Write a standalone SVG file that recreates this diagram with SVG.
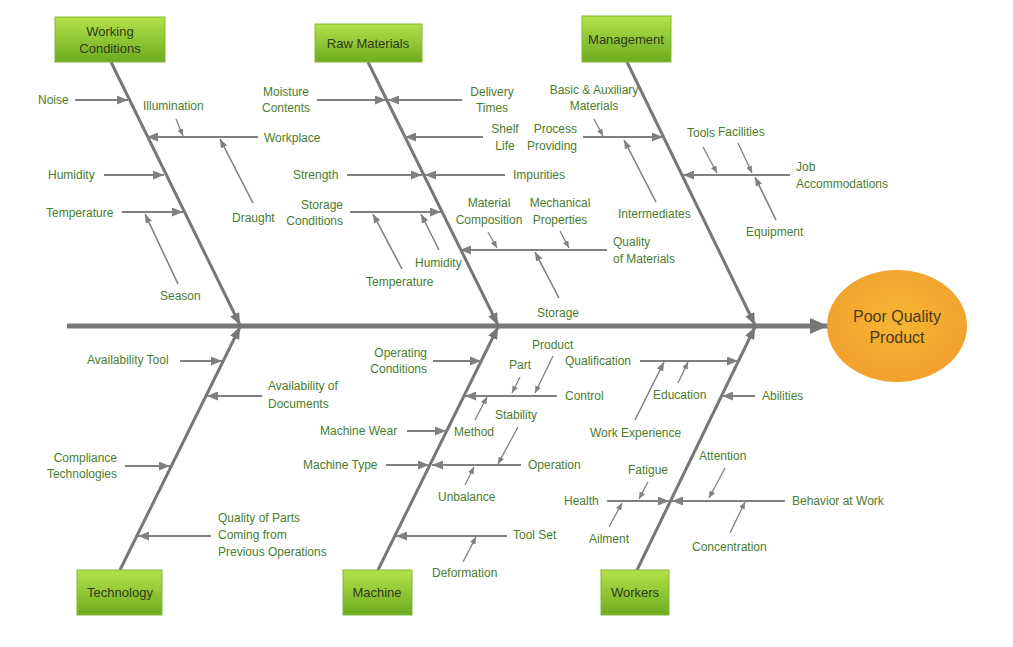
<svg xmlns="http://www.w3.org/2000/svg" width="1013" height="647" viewBox="0 0 1013 647">
<style>
.t{font-family:"Liberation Sans",Arial,sans-serif;font-size:12px;fill:#4a7c2e}
.m{text-anchor:middle}
.e{text-anchor:end}
.bt{font-family:"Liberation Sans",Arial,sans-serif;font-size:13px;fill:#2f3a1c;text-anchor:middle}
.box{fill:url(#gg);stroke:#7fb83a;stroke-width:1}
.bone{stroke:#777;stroke-width:3;fill:none;marker-end:url(#ab)}
.a{stroke:#808080;stroke-width:2;fill:none;marker-end:url(#ah)}
.d{stroke:#808080;stroke-width:1.6;fill:none;marker-end:url(#ad)}
.s{stroke:#808080;stroke-width:1.3;fill:none;marker-end:url(#as)}
</style>
<defs>
<linearGradient id="gg" x1="0" y1="0" x2="0" y2="1">
<stop offset="0" stop-color="#b4e24a"/>
<stop offset="1" stop-color="#6eab20"/>
</linearGradient>
<radialGradient id="og" cx="0.5" cy="0.45" r="0.6">
<stop offset="0" stop-color="#f7b534"/>
<stop offset="1" stop-color="#f0a02c"/>
</radialGradient>
<marker id="ab" markerUnits="userSpaceOnUse" markerWidth="12" markerHeight="10" refX="12" refY="5" orient="auto"><path d="M0,0 L12,5 L0,10 z" fill="#777"/></marker>
<marker id="ah" markerUnits="userSpaceOnUse" markerWidth="11" markerHeight="9" refX="11" refY="4.5" orient="auto"><path d="M0,0 L11,4.5 L0,9 z" fill="#808080"/></marker>
<marker id="ad" markerUnits="userSpaceOnUse" markerWidth="9" markerHeight="7" refX="9" refY="3.5" orient="auto"><path d="M0,0 L9,3.5 L0,7 z" fill="#808080"/></marker>
<marker id="as" markerUnits="userSpaceOnUse" markerWidth="7" markerHeight="6" refX="7" refY="3" orient="auto"><path d="M0,0 L7,3 L0,6 z" fill="#808080"/></marker>
<marker id="asp" markerUnits="userSpaceOnUse" markerWidth="18" markerHeight="16" refX="18" refY="8" orient="auto"><path d="M0,0 L18,8 L0,16 z" fill="#777"/></marker>
</defs>
<rect width="1013" height="647" fill="#fff"/>

<g id="connectors">
<line x1="67" y1="326" x2="828" y2="326" stroke="#777" stroke-width="5" marker-end="url(#asp)"/>
<line class="bone" x1="111" y1="62" x2="240" y2="325"/>
<line class="bone" x1="368" y1="62" x2="498" y2="325"/>
<line class="bone" x1="627" y1="62" x2="755" y2="325"/>
<line class="bone" x1="120" y1="570" x2="240" y2="327"/>
<line class="bone" x1="378" y1="570" x2="498" y2="327"/>
<line class="bone" x1="637" y1="570" x2="755" y2="327"/>

<line class="a" x1="75" y1="100" x2="128" y2="100"/>
<line class="a" x1="258" y1="137" x2="147" y2="137"/>
<line class="a" x1="104" y1="175" x2="164" y2="175"/>
<line class="a" x1="122" y1="212" x2="183" y2="212"/>
<line class="s" x1="176" y1="119" x2="183" y2="136"/>
<line class="d" x1="253" y1="203" x2="220" y2="139"/>
<line class="d" x1="178" y1="284" x2="145" y2="214"/>

<line class="a" x1="317" y1="100" x2="386" y2="100"/>
<line class="a" x1="462" y1="100" x2="388" y2="100"/>
<line class="a" x1="483" y1="137" x2="405" y2="137"/>
<line class="a" x1="347" y1="175" x2="422" y2="175"/>
<line class="a" x1="505" y1="175" x2="425" y2="175"/>
<line class="a" x1="350" y1="212" x2="441" y2="212"/>
<line class="d" x1="402" y1="269" x2="373" y2="214"/>
<line class="d" x1="439" y1="250" x2="421" y2="214"/>
<line class="a" x1="607" y1="250" x2="460" y2="250"/>
<line class="s" x1="488" y1="232" x2="497" y2="248"/>
<line class="s" x1="560" y1="231" x2="569" y2="248"/>
<line class="d" x1="559" y1="298" x2="535" y2="252"/>

<line class="s" x1="594" y1="119" x2="603" y2="136"/>
<line class="a" x1="583" y1="137" x2="663" y2="137"/>
<line class="d" x1="656" y1="202" x2="624" y2="140"/>
<line class="a" x1="790" y1="175" x2="683" y2="175"/>
<line class="s" x1="703" y1="147" x2="717" y2="173"/>
<line class="s" x1="738" y1="143" x2="752" y2="173"/>
<line class="d" x1="776" y1="220" x2="755" y2="177"/>

<line class="a" x1="180" y1="361" x2="222" y2="361"/>
<line class="a" x1="262" y1="396" x2="207" y2="396"/>
<line class="a" x1="125" y1="466" x2="170" y2="466"/>
<line class="a" x1="211" y1="536" x2="138" y2="536"/>

<line class="a" x1="433" y1="361" x2="481" y2="361"/>
<line class="a" x1="557" y1="396" x2="465" y2="396"/>
<line class="s" x1="520" y1="377" x2="512" y2="393"/>
<line class="s" x1="553" y1="356" x2="535" y2="393"/>
<line class="s" x1="475" y1="420" x2="487" y2="397"/>
<line class="a" x1="407" y1="431" x2="446" y2="431"/>
<line class="a" x1="386" y1="465" x2="429" y2="465"/>
<line class="a" x1="521" y1="465" x2="432" y2="465"/>
<line class="s" x1="518" y1="427" x2="498" y2="464"/>
<line class="s" x1="465" y1="485" x2="474" y2="467"/>
<line class="a" x1="507" y1="536" x2="396" y2="536"/>
<line class="s" x1="463" y1="562" x2="476" y2="537"/>

<line class="a" x1="640" y1="361" x2="738" y2="361"/>
<line class="d" x1="635" y1="420" x2="664" y2="362"/>
<line class="s" x1="678" y1="383" x2="688" y2="362"/>
<line class="a" x1="755" y1="396" x2="722" y2="396"/>
<line class="a" x1="607" y1="501" x2="669" y2="501"/>
<line class="a" x1="785" y1="501" x2="672" y2="501"/>
<line class="s" x1="648" y1="482" x2="639" y2="499"/>
<line class="s" x1="609" y1="527" x2="622" y2="503"/>
<line class="s" x1="725" y1="468" x2="709" y2="498"/>
<line class="s" x1="730" y1="533" x2="745" y2="502"/>
</g>

<g id="working-conditions">
<rect class="box" x="55" y="17" width="110" height="45"/>
<text class="bt" x="110" y="36">Working</text>
<text class="bt" x="110" y="53">Conditions</text>
<text class="t" x="38" y="104">Noise</text>
<text class="t" x="143" y="110">Illumination</text>
<text class="t" x="264" y="142">Workplace</text>
<text class="t" x="48" y="179">Humidity</text>
<text class="t" x="46" y="217">Temperature</text>
<text class="t" x="232" y="222">Draught</text>
<text class="t" x="160" y="300">Season</text>
</g>

<g id="raw-materials">
<rect class="box" x="315" y="24" width="107" height="38"/>
<text class="bt" x="368" y="48">Raw Materials</text>
<text class="t m" x="286" y="96">Moisture</text>
<text class="t m" x="286" y="112">Contents</text>
<text class="t m" x="492" y="96">Delivery</text>
<text class="t m" x="492" y="112">Times</text>
<text class="t m" x="505" y="133">Shelf</text>
<text class="t m" x="505" y="150">Life</text>
<text class="t" x="293" y="179">Strength</text>
<text class="t" x="513" y="179">Impurities</text>
<text class="t e" x="343" y="209">Storage</text>
<text class="t e" x="343" y="225">Conditions</text>
<text class="t" x="366" y="286">Temperature</text>
<text class="t" x="415" y="267">Humidity</text>
<text class="t m" x="489" y="207">Material</text>
<text class="t m" x="489" y="224">Composition</text>
<text class="t m" x="560" y="207">Mechanical</text>
<text class="t m" x="560" y="224">Properties</text>
<text class="t" x="613" y="246">Quality</text>
<text class="t" x="613" y="263">of Materials</text>
<text class="t" x="537" y="317">Storage</text>
</g>

<g id="management">
<rect class="box" x="582" y="16" width="89" height="46"/>
<text class="bt" x="626" y="44">Management</text>
<text class="t m" x="594" y="94">Basic &amp; Auxiliary</text>
<text class="t m" x="594" y="110">Materials</text>
<text class="t e" x="577" y="133">Process</text>
<text class="t e" x="577" y="150">Providing</text>
<text class="t" x="618" y="218">Intermediates</text>
<text class="t" x="687" y="137">Tools</text>
<text class="t" x="718" y="136">Facilities</text>
<text class="t" x="796" y="171">Job</text>
<text class="t" x="796" y="188">Accommodations</text>
<text class="t" x="746" y="236">Equipment</text>
</g>

<g id="technology">
<rect class="box" x="77" y="570" width="85" height="45"/>
<text class="bt" x="120" y="597">Technology</text>
<text class="t" x="87" y="364">Availability Tool</text>
<text class="t" x="268" y="390">Availability of</text>
<text class="t" x="268" y="408">Documents</text>
<text class="t e" x="117" y="462">Compliance</text>
<text class="t e" x="117" y="478">Technologies</text>
<text class="t" x="218" y="522">Quality of Parts</text>
<text class="t" x="218" y="539">Coming from</text>
<text class="t" x="218" y="556">Previous Operations</text>
</g>

<g id="machine">
<rect class="box" x="343" y="570" width="69" height="45"/>
<text class="bt" x="377" y="597">Machine</text>
<text class="t e" x="427" y="357">Operating</text>
<text class="t e" x="427" y="373">Conditions</text>
<text class="t" x="532" y="349">Product</text>
<text class="t" x="509" y="369">Part</text>
<text class="t" x="565" y="400">Control</text>
<text class="t" x="495" y="419">Stability</text>
<text class="t" x="454" y="436">Method</text>
<text class="t" x="320" y="435">Machine Wear</text>
<text class="t" x="303" y="469">Machine Type</text>
<text class="t" x="528" y="469">Operation</text>
<text class="t" x="438" y="501">Unbalance</text>
<text class="t" x="513" y="539">Tool Set</text>
<text class="t" x="432" y="577">Deformation</text>
</g>

<g id="workers">
<rect class="box" x="601" y="570" width="68" height="45"/>
<text class="bt" x="635" y="597">Workers</text>
<text class="t" x="565" y="365">Qualification</text>
<text class="t" x="653" y="399">Education</text>
<text class="t" x="590" y="437">Work Experience</text>
<text class="t" x="762" y="400">Abilities</text>
<text class="t" x="699" y="460">Attention</text>
<text class="t" x="628" y="474">Fatigue</text>
<text class="t" x="564" y="505">Health</text>
<text class="t" x="792" y="505">Behavior at Work</text>
<text class="t" x="589" y="543">Ailment</text>
<text class="t" x="692" y="551">Concentration</text>
</g>

<g id="poor-quality-product">
<ellipse cx="897" cy="326" rx="70" ry="56" fill="url(#og)"/>
<text x="897" y="322" font-family="'Liberation Sans',Arial,sans-serif" font-size="16" fill="#4a3a16" text-anchor="middle">Poor Quality</text>
<text x="897" y="343" font-family="'Liberation Sans',Arial,sans-serif" font-size="16" fill="#4a3a16" text-anchor="middle">Product</text>
</g>
</svg>
